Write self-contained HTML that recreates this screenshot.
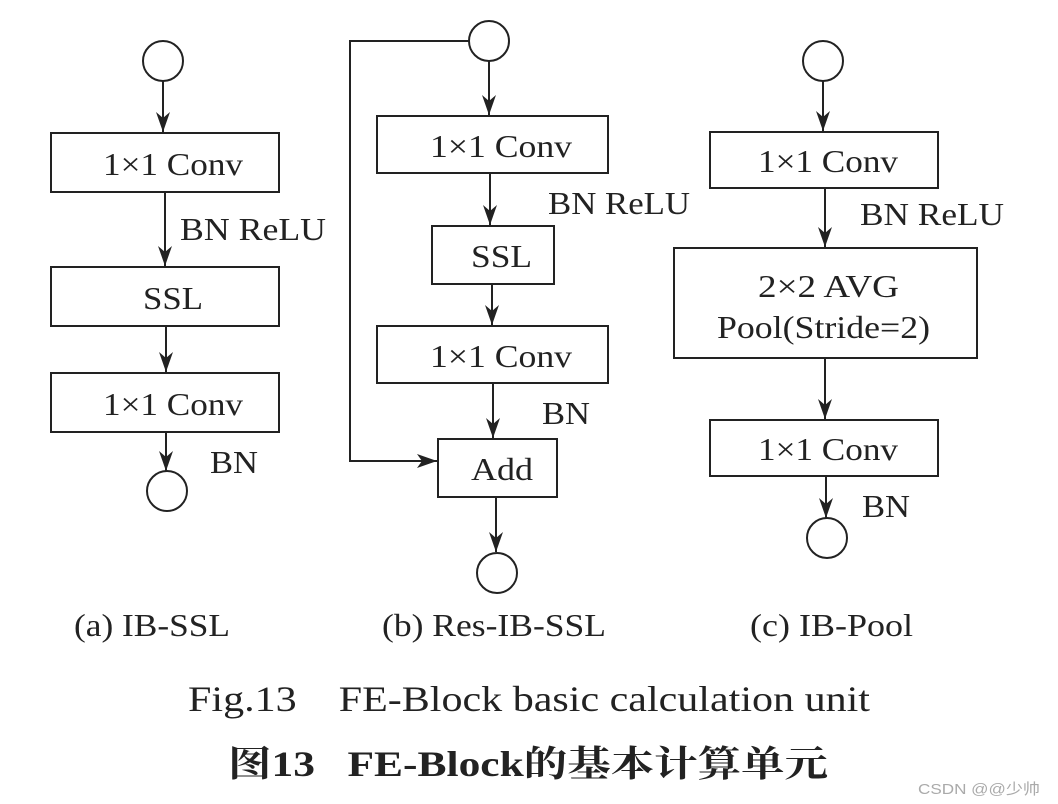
<!DOCTYPE html>
<html><head><meta charset="utf-8"><style>html,body{margin:0;padding:0;background:#fff}svg{display:block}</style></head><body>
<svg width="1058" height="804" viewBox="0 0 1058 804" xmlns="http://www.w3.org/2000/svg" font-family="Liberation Serif, serif" fill="#222">
<defs><marker id="ar" viewBox="0 0 20 14" markerWidth="20" markerHeight="14" refX="20" refY="7" orient="0" markerUnits="userSpaceOnUse"><path d="M0,0 L20,7 L0,14 L5,7 Z" fill="#222"/></marker>
<marker id="av" viewBox="0 0 14 20" markerWidth="14" markerHeight="20" refX="7" refY="20" orient="0" markerUnits="userSpaceOnUse"><path d="M0,0 L7,20 L14,0 L7,6 Z" fill="#222"/></marker></defs>
<g stroke="#222" stroke-width="2" fill="none">
<circle cx="163" cy="61" r="20"/>
<line x1="163" y1="81" x2="163" y2="132" marker-end="url(#av)"/>
<rect x="51" y="133" width="228" height="59"/>
<line x1="165" y1="192" x2="165" y2="266" marker-end="url(#av)"/>
<rect x="51" y="267" width="228" height="59"/>
<line x1="166" y1="326" x2="166" y2="372" marker-end="url(#av)"/>
<rect x="51" y="373" width="228" height="59"/>
<line x1="166" y1="432" x2="166" y2="471" marker-end="url(#av)"/>
<circle cx="167" cy="491" r="20"/>
<circle cx="489" cy="41" r="20"/>
<polyline points="469,41 350,41 350,461 437,461" marker-end="url(#ar)"/>
<line x1="489" y1="61" x2="489" y2="115" marker-end="url(#av)"/>
<rect x="377" y="116" width="231" height="57"/>
<line x1="490" y1="173" x2="490" y2="225" marker-end="url(#av)"/>
<rect x="432" y="226" width="122" height="58"/>
<line x1="492" y1="284" x2="492" y2="325" marker-end="url(#av)"/>
<rect x="377" y="326" width="231" height="57"/>
<line x1="493" y1="383" x2="493" y2="438" marker-end="url(#av)"/>
<rect x="438" y="439" width="119" height="58"/>
<line x1="496" y1="497" x2="496" y2="552" marker-end="url(#av)"/>
<circle cx="497" cy="573" r="20"/>
<circle cx="823" cy="61" r="20"/>
<line x1="823" y1="81" x2="823" y2="131" marker-end="url(#av)"/>
<rect x="710" y="132" width="228" height="56"/>
<line x1="825" y1="188" x2="825" y2="247" marker-end="url(#av)"/>
<rect x="674" y="248" width="303" height="110"/>
<line x1="825" y1="358" x2="825" y2="419" marker-end="url(#av)"/>
<rect x="710" y="420" width="228" height="56"/>
<line x1="826" y1="476" x2="826" y2="518" marker-end="url(#av)"/>
<circle cx="827" cy="538" r="20"/>
</g>
<g font-size="32" lengthAdjust="spacingAndGlyphs">
<text x="103" y="175" textLength="140" lengthAdjust="spacingAndGlyphs">1×1 Conv</text>
<text x="143" y="309" textLength="60" lengthAdjust="spacingAndGlyphs">SSL</text>
<text x="103" y="415" textLength="140" lengthAdjust="spacingAndGlyphs">1×1 Conv</text>
<text x="430" y="157" textLength="142" lengthAdjust="spacingAndGlyphs">1×1 Conv</text>
<text x="471" y="267" textLength="61" lengthAdjust="spacingAndGlyphs">SSL</text>
<text x="430" y="367" textLength="142" lengthAdjust="spacingAndGlyphs">1×1 Conv</text>
<text x="471" y="480" textLength="62" lengthAdjust="spacingAndGlyphs">Add</text>
<text x="758" y="172" textLength="140" lengthAdjust="spacingAndGlyphs">1×1 Conv</text>
<text x="758" y="297" textLength="141" lengthAdjust="spacingAndGlyphs">2×2 AVG</text>
<text x="717" y="338" textLength="213" lengthAdjust="spacingAndGlyphs">Pool(Stride=2)</text>
<text x="758" y="460" textLength="140" lengthAdjust="spacingAndGlyphs">1×1 Conv</text>
<text x="180" y="240" textLength="146" lengthAdjust="spacingAndGlyphs">BN ReLU</text>
<text x="210" y="473" textLength="48" lengthAdjust="spacingAndGlyphs">BN</text>
<text x="548" y="214" textLength="142" lengthAdjust="spacingAndGlyphs">BN ReLU</text>
<text x="542" y="424" textLength="48" lengthAdjust="spacingAndGlyphs">BN</text>
<text x="860" y="225" textLength="144" lengthAdjust="spacingAndGlyphs">BN ReLU</text>
<text x="862" y="517" textLength="48" lengthAdjust="spacingAndGlyphs">BN</text>
<text x="74" y="636" textLength="156" lengthAdjust="spacingAndGlyphs">(a) IB-SSL</text>
<text x="382" y="636" textLength="224" lengthAdjust="spacingAndGlyphs">(b) Res-IB-SSL</text>
<text x="750" y="636" textLength="163" lengthAdjust="spacingAndGlyphs">(c) IB-Pool</text>
</g>
<text x="188" y="711" font-size="36" textLength="682" lengthAdjust="spacingAndGlyphs" xml:space="preserve">Fig.13    FE-Block basic calculation unit</text>
<text x="228" y="776" font-size="36" font-weight="bold" font-family="Liberation Serif, Noto Serif CJK SC, serif" textLength="600" lengthAdjust="spacingAndGlyphs" xml:space="preserve">图13   FE-Block的基本计算单元</text>
<text x="918" y="794" font-size="15" fill="#aaa" font-family="Liberation Sans, Noto Sans CJK SC, sans-serif" textLength="122" lengthAdjust="spacingAndGlyphs">CSDN @@少帅</text>
</svg>
</body></html>
